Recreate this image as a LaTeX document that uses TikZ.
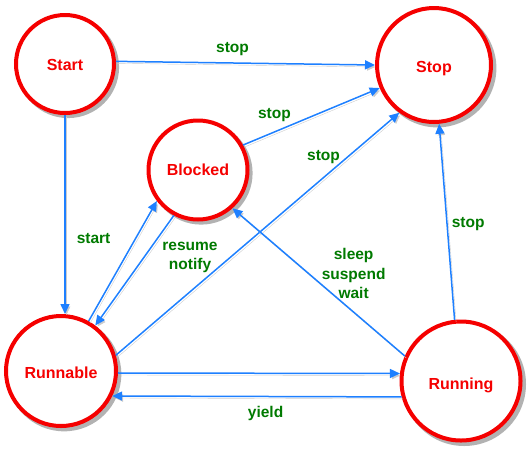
\documentclass[tikz,border=0pt]{standalone}
\usepackage{fontspec}
\setmainfont{Liberation Sans}
\usepackage{tikz}
\usetikzlibrary{shadows, arrows.meta}
\definecolor{ringred}{RGB}{245,0,0}
\definecolor{arrowblue}{RGB}{30,128,255}
\definecolor{labelgreen}{RGB}{0,122,0}

\begin{document}
\begin{tikzpicture}[x=1pt,y=-1pt,
	statering/.style={circle,draw=ringred,line width=4pt,fill=white,inner sep=0pt,
		text=ringred,text depth=0pt,font=\fontsize{16}{19}\selectfont\bfseries,
		drop shadow={shadow xshift=3pt,shadow yshift=-3pt,shadow scale=1.04,opacity=0.3,fill=black}},
	trans/.style={draw=arrowblue,line width=1.5pt,-{Triangle[length=10pt,width=9pt]},
		preaction={draw=black!20,transform canvas={shift={(1.5pt,-2pt)}}}},
	lbl/.style={inner sep=0pt,text=labelgreen,align=center,
		font=\fontsize{15.5}{19.5}\selectfont\bfseries}]
	\useasboundingbox (0,0) rectangle (532,451);
	% states
	\node[statering,minimum size=98pt] at (65,64) (start) {\raisebox{-2pt}{Start}};
	\node[statering,minimum size=114pt] at (434,65) (stop) {\raisebox{-3pt}{Stop}};
	\node[statering,minimum size=99pt] at (198,170) (blocked) {Blocked};
	\node[statering,minimum size=110pt] at (61,371) (runnable) {\raisebox{-3pt}{Runnable}};
	\node[statering,minimum size=119pt] at (461,381) (running) {\raisebox{-6pt}{Running}};
	% transitions
	\draw[trans] (start.3) -- (stop.180) node[lbl,pos=0.45,above=7pt] {stop};
	\draw[trans] (start.south) -- (start.south |- runnable.north) node[lbl,pos=0.62,right=11pt] {start};
	\draw[trans] (blocked.29) -- (stop.203) node[lbl,pos=0.23,above=9pt] {stop};
	\draw[trans] (runnable.16) -- (stop.234) node[lbl,pos=0.8,above left=2pt,yshift=-5pt] {stop};
	\draw[trans] (running.96) -- (stop.275) node[lbl,pos=0.49,right=4pt] {stop};
	\draw[trans] (runnable.61) -- (blocked.217);
	\draw[trans] (blocked.242) -- (runnable.53) node[lbl,pos=0.32,right=13pt,yshift=-7pt] {resume\\notify};
	\draw[trans] (running.156) -- (blocked.312) node[lbl,pos=0.55,right=11pt,yshift=1pt] {sleep\\suspend\\wait};
	\draw[trans] (runnable.358) -- (running.173);
	\draw[trans] (running.195) -- (runnable.334) node[lbl,pos=0.47,below=9pt] {yield};
\end{tikzpicture}
\end{document}
